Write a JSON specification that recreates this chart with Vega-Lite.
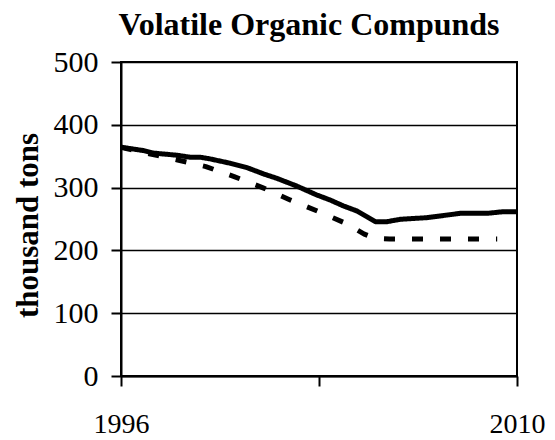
{
  "$schema": "https://vega.github.io/schema/vega-lite/v6.json",
  "autosize": "none",
  "padding": {"left": 121, "top": 62, "right": 38, "bottom": 64},
  "width": 396,
  "height": 314,
  "background": "white",
  "title": {
    "text": "Volatile Organic Compunds",
    "font": "Liberation Serif",
    "fontSize": 32,
    "fontWeight": "bold",
    "color": "black",
    "anchor": "middle",
    "frame": "group",
    "baseline": "alphabetic",
    "dx": -10,
    "offset": -20
  },
  "data": {
    "values": [
      {"year": 1996, "v": 364.4, "s": "total"},
      {"year": 1996.79, "v": 359, "s": "total"},
      {"year": 1997.14, "v": 355, "s": "total"},
      {"year": 1997.97, "v": 351.6, "s": "total"},
      {"year": 1998.44, "v": 348.4, "s": "total"},
      {"year": 1998.8, "v": 348.4, "s": "total"},
      {"year": 1999.15, "v": 345.7, "s": "total"},
      {"year": 1999.86, "v": 338.8, "s": "total"},
      {"year": 2000.45, "v": 331.9, "s": "total"},
      {"year": 2001.04, "v": 321.8, "s": "total"},
      {"year": 2001.5, "v": 314.9, "s": "total"},
      {"year": 2002.2, "v": 302.7, "s": "total"},
      {"year": 2002.92, "v": 288.3, "s": "total"},
      {"year": 2003.39, "v": 280.3, "s": "total"},
      {"year": 2003.87, "v": 270.7, "s": "total"},
      {"year": 2004.34, "v": 262.8, "s": "total"},
      {"year": 2004.69, "v": 253.7, "s": "total"},
      {"year": 2004.99, "v": 245.7, "s": "total"},
      {"year": 2005.4, "v": 245.7, "s": "total"},
      {"year": 2005.87, "v": 249.5, "s": "total"},
      {"year": 2006.81, "v": 252.1, "s": "total"},
      {"year": 2007.99, "v": 259, "s": "total"},
      {"year": 2008.94, "v": 259, "s": "total"},
      {"year": 2009.53, "v": 261.7, "s": "total"},
      {"year": 2010, "v": 261.7, "s": "total"},
      {"year": 1996, "v": 364, "s": "target"},
      {"year": 1997, "v": 354, "s": "target"},
      {"year": 1998, "v": 344, "s": "target"},
      {"year": 1999, "v": 333.5, "s": "target"},
      {"year": 2000, "v": 317.5, "s": "target"},
      {"year": 2001, "v": 300, "s": "target"},
      {"year": 2002, "v": 280, "s": "target"},
      {"year": 2003, "v": 261.5, "s": "target"},
      {"year": 2004, "v": 242, "s": "target"},
      {"year": 2004.6, "v": 226, "s": "target"},
      {"year": 2005, "v": 219, "s": "target"},
      {"year": 2005.5, "v": 218, "s": "target"},
      {"year": 2009.3, "v": 218, "s": "target"}
    ]
  },
  "mark": {"type": "line", "strokeWidth": 5, "color": "black", "strokeCap": "butt", "strokeJoin": "round"},
  "encoding": {
    "x": {
      "field": "year",
      "type": "quantitative",
      "scale": {"domain": [1996, 2010], "nice": false, "zero": false},
      "axis": {
        "title": null,
        "values": [1996, 2003, 2010],
        "format": "d",
        "labelExpr": "datum.value == 2003 ? '' : datum.label",
        "grid": false,
        "labelPadding": 24,
        "labelFontSize": 28
      }
    },
    "y": {
      "field": "v",
      "type": "quantitative",
      "scale": {"domain": [0, 500], "nice": false},
      "axis": {
        "title": "thousand tons",
        "values": [0, 100, 200, 300, 400, 500],
        "grid": true,
        "labelPadding": 13,
        "labelFontSize": 30,
        "titleFont": "Liberation Serif",
        "titleFontSize": 31,
        "titleFontWeight": "bold",
        "titleColor": "black",
        "titleAngle": 270,
        "titleAlign": "center",
        "titleBaseline": "alphabetic",
        "titleX": -84,
        "titleY": 163
      }
    },
    "strokeDash": {
      "field": "s",
      "type": "nominal",
      "scale": {"domain": ["total", "target"], "range": [[1, 0], [11, 17]]},
      "legend": null
    },
    "order": {"field": "year", "type": "quantitative"}
  },
  "config": {
    "view": {"stroke": "black", "strokeWidth": 2},
    "axis": {
      "domainColor": "black",
      "domainWidth": 2,
      "tickColor": "black",
      "tickWidth": 2,
      "tickSize": 10,
      "gridColor": "black",
      "gridWidth": 1.6,
      "gridOpacity": 1,
      "labelFont": "Liberation Serif",
      "labelColor": "black",
      "labelFlush": false,
      "labelOverlap": false
    }
  }
}
